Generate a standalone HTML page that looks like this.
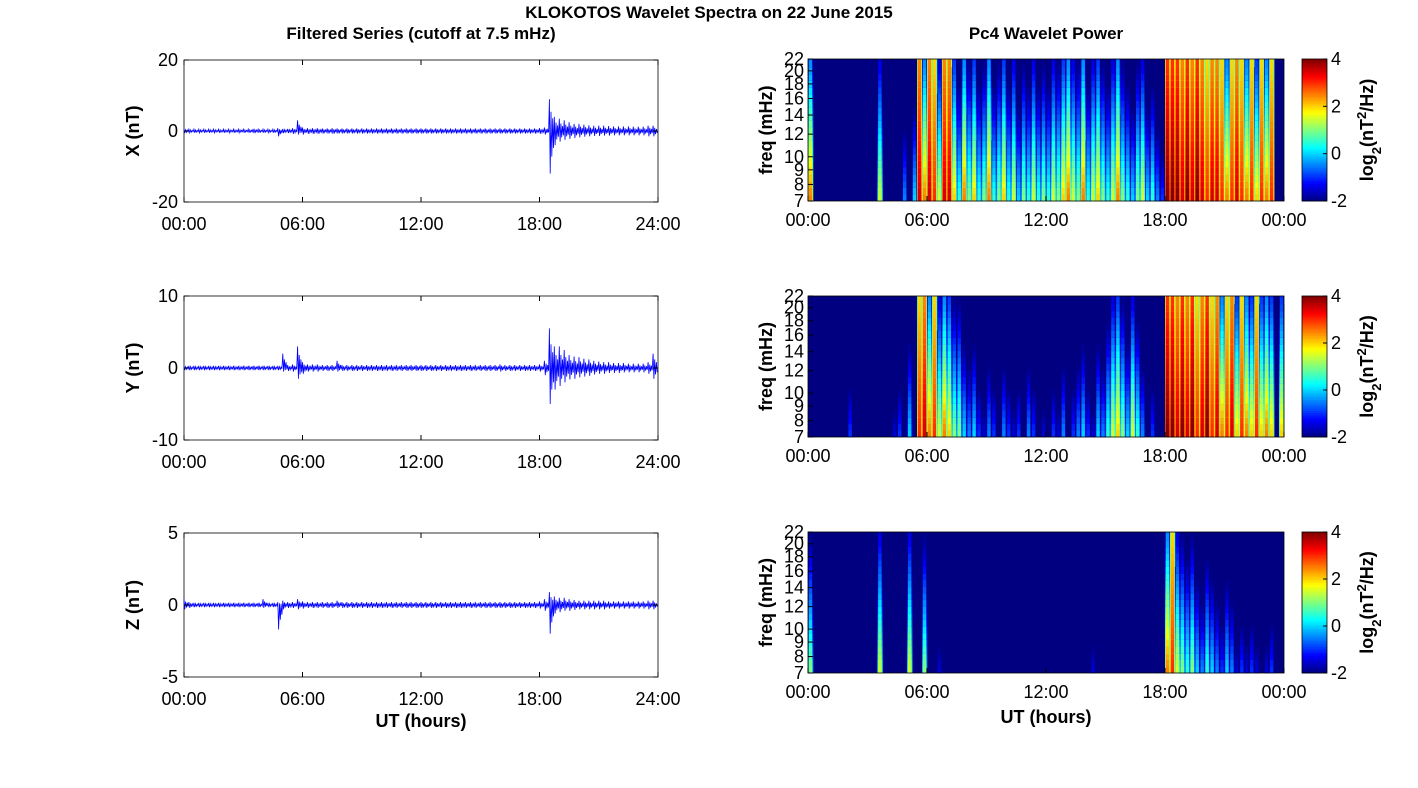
<!DOCTYPE html>
<html><head><meta charset="utf-8"><style>
body{margin:0;background:#fff;}
svg{display:block;font-family:"Liberation Sans",sans-serif;}
</style></head><body>
<svg id="fig" width="1418" height="788" viewBox="0 0 1418 788">
<text x="709" y="18" text-anchor="middle" font-size="17" font-weight="bold">KLOKOTOS Wavelet Spectra on 22 June 2015</text>
<text x="421" y="39" text-anchor="middle" font-size="17" font-weight="bold">Filtered Series (cutoff at 7.5 mHz)</text>
<text x="1046" y="39" text-anchor="middle" font-size="17" font-weight="bold">Pc4 Wavelet Power</text>
</svg>
<script>
// ---- data ----
const timeTickLabelsL = ["00:00","06:00","12:00","18:00","24:00"];
const timeTickLabelsR = ["00:00","06:00","12:00","18:00","00:00"];
const timeTickHours = [0,6,12,18,24];
const freqTicks = [7,8,9,10,12,14,16,18,20,22];
const cbTicks = [-2,0,2,4];
const compNames = ["X","Y","Z"];
const yLimits = [20,10,5];
// envelope max/min per 15-minute bin (nT)
const xMax = [0.6,0.5,0.5,0.5,0.5,0.5,0.5,0.5,0.5,0.5,0.5,0.5,0.5,0.5,0.6,0.5,0.5,0.5,0.5,0.8,0.6,0.6,0.8,3,1,0.8,0.8,0.8,0.7,0.7,0.8,0.7,0.7,0.7,0.7,0.7,0.7,0.7,0.7,0.7,0.7,0.7,0.7,0.7,0.7,0.7,0.7,0.7,0.7,0.7,0.7,0.7,0.7,0.7,0.7,0.7,0.7,0.7,0.7,0.7,0.7,0.7,0.7,0.7,0.7,0.7,0.7,0.7,0.7,0.7,0.7,0.7,0.8,1,9,4,3.5,3,2.5,2,2,1.8,1.6,1.5,1.5,1.5,1.4,1.3,1.3,1.3,1.3,1.2,1.2,1.2,1.5,1.5];
const xMin = [-0.6,-0.5,-0.5,-0.5,-0.5,-0.5,-0.5,-0.5,-0.5,-0.5,-0.5,-0.5,-0.5,-0.5,-0.6,-0.5,-0.5,-0.5,-0.5,-1.5,-0.6,-0.6,-0.8,-1,-1,-0.8,-0.8,-0.8,-0.7,-0.7,-0.8,-0.7,-0.7,-0.7,-0.7,-0.7,-0.7,-0.7,-0.7,-0.7,-0.7,-0.7,-0.7,-0.7,-0.7,-0.7,-0.7,-0.7,-0.7,-0.7,-0.7,-0.7,-0.7,-0.7,-0.7,-0.7,-0.7,-0.7,-0.7,-0.7,-0.7,-0.7,-0.7,-0.7,-0.7,-0.7,-0.7,-0.7,-0.7,-0.7,-0.7,-0.7,-0.8,-1,-12,-4,-3,-2.5,-2.2,-2,-1.8,-1.6,-1.5,-1.4,-1.4,-1.3,-1.3,-1.2,-1.2,-1.2,-1.2,-1.2,-1.2,-1.2,-1.5,-1.5];
const yMax = [0.3,0.3,0.3,0.3,0.3,0.3,0.3,0.3,0.3,0.3,0.3,0.3,0.3,0.3,0.3,0.3,0.3,0.3,0.3,0.3,2,0.4,0.5,3,0.8,0.5,0.5,0.5,0.4,0.4,0.4,1,0.4,0.4,0.4,0.4,0.4,0.4,0.4,0.4,0.4,0.4,0.4,0.4,0.4,0.4,0.4,0.4,0.4,0.4,0.4,0.4,0.4,0.4,0.4,0.4,0.4,0.4,0.4,0.4,0.4,0.4,0.4,0.4,0.5,0.4,0.4,0.4,0.4,0.4,0.4,0.4,0.5,1,5.5,3,3,2.5,1.8,1.6,1.5,1.3,1.2,1,0.9,0.8,0.8,0.7,0.7,0.7,0.6,0.6,0.6,0.6,0.8,2];
const yMin = [-0.3,-0.3,-0.3,-0.3,-0.3,-0.3,-0.3,-0.3,-0.3,-0.3,-0.3,-0.3,-0.3,-0.3,-0.3,-0.3,-0.3,-0.3,-0.3,-0.3,-0.5,-0.4,-0.5,-1.5,-0.8,-0.5,-0.5,-0.5,-0.4,-0.4,-0.4,-0.5,-0.4,-0.4,-0.4,-0.4,-0.4,-0.4,-0.4,-0.4,-0.4,-0.4,-0.4,-0.4,-0.4,-0.4,-0.4,-0.4,-0.4,-0.4,-0.4,-0.4,-0.4,-0.4,-0.4,-0.4,-0.4,-0.4,-0.4,-0.4,-0.4,-0.4,-0.4,-0.4,-0.5,-0.4,-0.4,-0.4,-0.4,-0.4,-0.4,-0.4,-0.5,-1,-5,-3,-2.5,-2,-1.6,-1.5,-1.3,-1.2,-1.1,-0.9,-0.8,-0.8,-0.7,-0.7,-0.7,-0.6,-0.6,-0.6,-0.6,-0.6,-0.8,-1.5];
const zMax = [0.4,0.2,0.15,0.15,0.15,0.15,0.15,0.15,0.15,0.15,0.15,0.15,0.15,0.15,0.15,0.15,0.4,0.15,0.15,0.2,0.3,0.2,0.2,0.4,0.25,0.2,0.2,0.2,0.2,0.2,0.2,0.3,0.2,0.2,0.2,0.2,0.2,0.2,0.2,0.2,0.2,0.2,0.2,0.2,0.2,0.2,0.2,0.2,0.2,0.2,0.2,0.2,0.2,0.2,0.2,0.2,0.2,0.2,0.2,0.2,0.2,0.2,0.2,0.2,0.2,0.2,0.2,0.2,0.2,0.2,0.2,0.2,0.25,0.4,0.9,0.6,0.5,0.5,0.4,0.35,0.3,0.3,0.3,0.3,0.3,0.3,0.25,0.25,0.25,0.25,0.25,0.25,0.25,0.25,0.3,0.3];
const zMin = [-0.3,-0.2,-0.15,-0.15,-0.15,-0.15,-0.15,-0.15,-0.15,-0.15,-0.15,-0.15,-0.15,-0.15,-0.15,-0.15,-0.2,-0.15,-0.15,-1.7,-0.3,-0.2,-0.2,-0.3,-0.25,-0.2,-0.2,-0.2,-0.2,-0.2,-0.2,-0.2,-0.2,-0.2,-0.2,-0.2,-0.2,-0.2,-0.2,-0.2,-0.2,-0.2,-0.2,-0.2,-0.2,-0.2,-0.2,-0.2,-0.2,-0.2,-0.2,-0.2,-0.2,-0.2,-0.2,-0.2,-0.2,-0.2,-0.2,-0.2,-0.2,-0.2,-0.2,-0.2,-0.2,-0.2,-0.2,-0.2,-0.2,-0.2,-0.2,-0.2,-0.25,-0.4,-2,-0.6,-0.5,-0.4,-0.4,-0.35,-0.3,-0.3,-0.3,-0.3,-0.3,-0.3,-0.25,-0.25,-0.25,-0.25,-0.25,-0.25,-0.25,-0.25,-0.3,-0.3];
// wavelet log2 power at lowest frequency per 15-minute bin
const powX = [2.5,-2,-2,-2,-2,-2,-2,-2,-2,-2,-2,-2,-2,-2,1.5,-2,-2,-2,-2,-0.5,-2,0,3.5,2.5,3.5,3,1.5,3.5,3.5,2,0.5,2.5,1,2,0.5,1,2.5,0.5,1,2,0.5,1.5,0,1,0.5,1.5,0.5,1,0.5,1.5,1,2,2.5,1.5,1,2.5,0.5,1.5,2,1,0.5,1.5,2.5,1,0.5,0,1,1.5,0,0.5,-0.5,-1,4,4,4,3.5,4,3.5,4,3.5,3,3.5,3.5,3,2.5,3,3.5,3,2.5,3,2,3,2.5,3,-2,-2];
const powY = [-2,-2,-2,-2,-2,-2,-2,-2,-1,-2,-2,-2,-2,-2,-2,-2,-2,-1.5,-1,-2,0,-2,3,3.5,2.5,3,1.5,2.5,2,1,1,0,-0.5,0,-1,-1.5,-0.5,-1,-2,-0.5,-1,-1.5,-1,-2,-0.5,-1,-2,-1.5,-2,-1,-1.5,-0.5,-2,-1,-0.5,0,-1,-1.5,0,-0.5,0.5,1.5,2,1,0,1.5,0.5,-0.5,-2,-1,-2,-2,4,4,3.5,4,3.5,4,3,3.5,4,3,3.5,2.5,3,3.5,2,3,2.5,2,3,2,2.5,2,-2,2];
const powZ = [1,-2,-2,-2,-2,-2,-2,-2,-2,-2,-2,-2,-2,-2,1.5,-2,-2,-2,-2,-2,1.5,-2,-2,1,-2,-2,-1.5,-2,-2,-2,-2,-2,-2,-2,-2,-2,-2,-2,-2,-2,-2,-2,-2,-2,-2,-2,-2,-2,-2,-2,-2,-2,-2,-2,-2,-2,-2,-1.5,-2,-2,-2,-2,-2,-2,-2,-2,-2,-2,-2,-2,-2,-2,2.5,3,1.5,1,0.5,1,0,-0.5,0.5,0,-0.5,-1,0,-0.5,-1.5,-1,-1.5,-1,-1.5,-2,-1.5,-1,-2,-2];
// frequency rows (mHz) and per-row power offset
const freqRows = [7,7.4,7.8,8.2,8.7,9.2,9.7,10.2,10.8,11.4,12,12.7,13.4,14.1,14.9,15.7,16.6,17.5,18.5,19.5,20.6,21.7];
const freqDecay = [0,-0.1,-0.25,-0.4,-0.55,-0.7,-0.85,-1,-1.15,-1.3,-1.45,-1.6,-1.75,-1.9,-2.05,-2.2,-2.35,-2.5,-2.65,-2.8,-2.9,-3];

const NS = "http://www.w3.org/2000/svg";
const svg = document.getElementById('fig');
function mk(tag, attrs, parent){const e=document.createElementNS(NS,tag);for(const k in attrs)e.setAttribute(k,attrs[k]);(parent||svg).appendChild(e);return e;}
function jet(t){t=Math.max(0,Math.min(1,t));
 const r=Math.max(0,Math.min(1,1.5-Math.abs(4*t-3))),g=Math.max(0,Math.min(1,1.5-Math.abs(4*t-2))),b=Math.max(0,Math.min(1,1.5-Math.abs(4*t-1)));
 return `rgb(${Math.round(r*255)},${Math.round(g*255)},${Math.round(b*255)})`;}

const leftX0=184,leftX1=658, rightX0=808,rightX1=1284;
const leftRows=[[60,202],[296,440],[533,677]];
const rightRows=[[59,201],[296,437],[532,673]];
const envMax=[xMax,yMax,zMax], envMin=[xMin,yMin,zMin], pows=[powX,powY,powZ];
const ft="font-size:18px";

for(let p=0;p<3;p++){
 // ---- left time series ----
 const [t0,t1]=leftRows[p]; const L=yLimits[p];
 const xs=h=>leftX0+(h/24)*(leftX1-leftX0);
 const ys=v=>t0+(L-v)/(2*L)*(t1-t0);
 const g=mk('g',{});
 
 
 mk('rect',{x:leftX0,y:t0,width:leftX1-leftX0,height:t1-t0,fill:'#fff',stroke:'#000','stroke-width':0.8},g);
 let d='';
 const mx=envMax[p], mn=envMin[p];
 for(let i=0;i<mx.length;i++){
  for(let k=0;k<6;k++){
   const h=(i+k/6)*0.25; const v=(k%2===0)?mx[i]:mn[i];
   const amp=(k===0||k===1)?1:(k<4?0.6:0.4);
   d+=(d?'L':'M')+xs(h).toFixed(1)+','+ys(v*amp).toFixed(1);
  }
 }
 const line=mk('path',{d:d,fill:'none',stroke:'#0000ff','stroke-width':0.8},g);
 
 
 [L,0,-L].forEach(v=>{
  mk('line',{x1:leftX0,x2:leftX0+5,y1:ys(v),y2:ys(v),stroke:'#000'},g);
  mk('line',{x1:leftX1,x2:leftX1-5,y1:ys(v),y2:ys(v),stroke:'#000'},g);
  const t=mk('text',{x:leftX0-6,y:ys(v)+6,'text-anchor':'end',style:ft},g);t.textContent=v;
  
  
 });
 timeTickHours.forEach((h,i)=>{
  mk('line',{x1:xs(h),x2:xs(h),y1:t1,y2:t1-5,stroke:'#000'},g);
  mk('line',{x1:xs(h),x2:xs(h),y1:t0,y2:t0+5,stroke:'#000'},g);
  const t=mk('text',{x:xs(h),y:t1+28,'text-anchor':'middle',style:ft},g);t.textContent=timeTickLabelsL[i];
  
  
 });
 const yl=mk('text',{x:0,y:0,'text-anchor':'middle','font-weight':'bold',style:ft,transform:`translate(139,${(t0+t1)/2}) rotate(-90)`},g);
 yl.textContent=compNames[p]+' (nT)';
 
 

 // ---- right heatmap ----
 const [r0,r1]=rightRows[p];
 const xr=h=>rightX0+(h/24)*(rightX1-rightX0);
 const fy=f=>r1-Math.log(f/7)/Math.log(22/7)*(r1-r0);
 const hg=mk('g',{});
 
 
 mk('rect',{x:rightX0,y:r0,width:rightX1-rightX0,height:r1-r0,fill:jet(0)},hg);
 const pw=pows[p];
 const bw=(rightX1-rightX0)/96;
 for(let i=0;i<pw.length;i++){
  for(let f=0;f<freqRows.length;f++){
   const v=pw[i]+freqDecay[f]*(pw[i]>2.5?0.35:1);
   if(v<=-2) continue;
   const fTop=f+1<freqRows.length?freqRows[f+1]:22;
   const yTop=fy(fTop), hh=fy(freqRows[f])-fy(fTop)+0.3;
   // halo across full bin
   const hv=v-1.2;
   if(hv>-2){
    const c0=mk('rect',{x:xr(i*0.25).toFixed(2),y:yTop.toFixed(2),width:(bw+0.3).toFixed(2),height:hh.toFixed(2),fill:jet((Math.min(4,hv)+2)/6)},hg);
    
    
   }
   // streak core
   const c=mk('rect',{x:(xr(i*0.25)+bw*0.15).toFixed(2),y:yTop.toFixed(2),width:(bw*0.7).toFixed(2),height:hh.toFixed(2),fill:jet((Math.min(4,v)+2)/6)},hg);
   
   
  }
 }
 mk('rect',{x:rightX0,y:r0,width:rightX1-rightX0,height:r1-r0,fill:'none',stroke:'#000','stroke-width':0.8},hg);
 freqTicks.forEach(f=>{
  mk('line',{x1:rightX0,x2:rightX0+5,y1:fy(f),y2:fy(f),stroke:'#000'},hg);
  const t=mk('text',{x:rightX0-4,y:fy(f)+6,'text-anchor':'end',style:ft},hg);t.textContent=f;
  
  
 });
 timeTickHours.forEach((h,i)=>{
  mk('line',{x1:xr(h),x2:xr(h),y1:r1,y2:r1-5,stroke:'#000'},hg);
  const t=mk('text',{x:xr(h),y:r1+25,'text-anchor':'middle',style:ft},hg);t.textContent=timeTickLabelsR[i];
  
  
 });
 const fl=mk('text',{x:0,y:0,'text-anchor':'middle','font-weight':'bold',style:ft,transform:`translate(772,${(r0+r1)/2}) rotate(-90)`},hg);
 fl.textContent='freq (mHz)';
 
 
 // colorbar
 const cb=mk('g',{},hg);
 
 
 const cx=1302,cw=25,n=64;
 for(let k=0;k<n;k++){
  mk('rect',{x:cx,y:(r1-(k+1)*(r1-r0)/n).toFixed(2),width:cw,height:((r1-r0)/n+0.4).toFixed(2),fill:jet((k+0.5)/n)},cb);
 }
 mk('rect',{x:cx,y:r0,width:cw,height:r1-r0,fill:'none',stroke:'#000','stroke-width':0.8},cb);
 cbTicks.forEach(v=>{
  const y=r1-(v+2)/6*(r1-r0);
  mk('line',{x1:cx+cw,x2:cx+cw-4,y1:y,y2:y,stroke:'#000'},cb);
  const t=mk('text',{x:cx+cw+4,y:y+6,style:ft},cb);t.textContent=v;
  
  
 });
 const cl=mk('text',{x:0,y:0,'text-anchor':'middle','font-weight':'bold',style:ft,transform:`translate(1373,${(r0+r1)/2}) rotate(-90)`},cb);
 
 
 cl.innerHTML='log<tspan baseline-shift="sub" font-size="13">2</tspan>(nT<tspan baseline-shift="super" font-size="13">2</tspan>/Hz)';
}
const u1=mk('text',{x:421,y:727,'text-anchor':'middle','font-weight':'bold',style:ft});
u1.textContent='UT (hours)';


const u2=mk('text',{x:1046,y:723,'text-anchor':'middle','font-weight':'bold',style:ft});
u2.textContent='UT (hours)';


</script>
</body></html>
